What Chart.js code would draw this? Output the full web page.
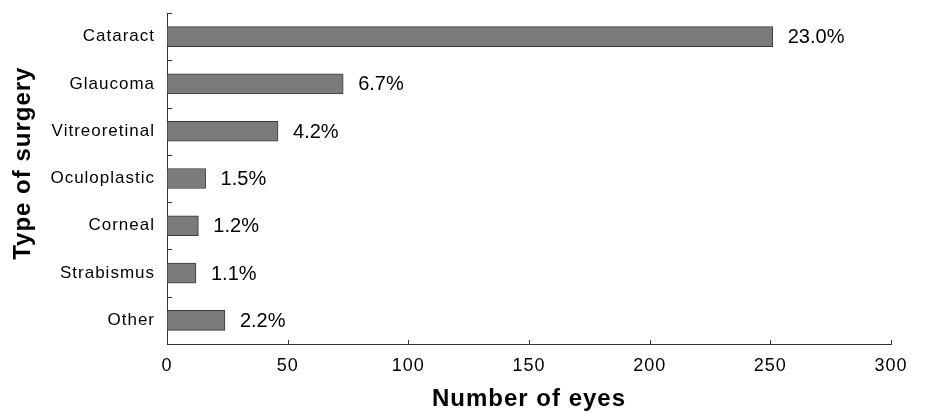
<!DOCTYPE html>
<html>
<head>
<meta charset="utf-8">
<script src="https://cdn.jsdelivr.net/npm/chart.js@4.4.1/dist/chart.umd.min.js"></script>
<style>
  html, body { margin: 0; padding: 0; background: #fff; }
  #wrap { width: 939px; height: 414px; position: relative; }
</style>
</head>
<body>
<div id="wrap"><canvas id="grafico"></canvas></div>
<script>
const categorias = ['Cataract', 'Glaucoma', 'Vitreoretinal', 'Oculoplastic', 'Corneal', 'Strabismus', 'Other'];
const olhos = [251, 73, 46, 16, 13, 12, 24];
const porcentagens = ['23.0%', '6.7%', '4.2%', '1.5%', '1.2%', '1.1%', '2.2%'];
const ticksX = [0, 50, 100, 150, 200, 250, 300];

const fonte = 'Liberation Sans, Arial, sans-serif';

// espacamento entre letras, como no original
const espacoPlugin = {
    id: 'espaco',
    beforeDraw(chart) {
        chart.ctx.letterSpacing = '1px';
    }
};

// rotulos de porcentagem ao lado das barras
const rotulosPlugin = {
    id: 'rotulos',
    afterDatasetsDraw(chart) {
        const ctx = chart.ctx;
        const meta = chart.getDatasetMeta(0);
        ctx.save();
        ctx.letterSpacing = '0px';
        ctx.font = '20px ' + fonte;
        ctx.fillStyle = '#000';
        ctx.textAlign = 'left';
        ctx.textBaseline = 'middle';
        meta.data.forEach((bar, i) => {
            ctx.fillText(porcentagens[i], bar.x + 15, bar.y + 1);
        });
        ctx.restore();
    }
};

// marcas pequenas dos eixos, para dentro
const marcasPlugin = {
    id: 'marcas',
    afterDraw(chart) {
        const ctx = chart.ctx;
        const sx = chart.scales.x;
        const area = chart.chartArea;
        ctx.save();
        ctx.strokeStyle = '#333';
        ctx.lineWidth = 1;
        ticksX.forEach(v => {
            const px = Math.round(sx.getPixelForValue(v)) + 0.5;
            ctx.beginPath();
            ctx.moveTo(px, area.bottom);
            ctx.lineTo(px, area.bottom - 4);
            ctx.stroke();
        });
        const passo = (area.bottom - area.top) / categorias.length;
        for (let i = 0; i < categorias.length; i++) {
            const py = Math.round(area.top + i * passo) + 0.5;
            ctx.beginPath();
            ctx.moveTo(area.left, py);
            ctx.lineTo(area.left + 5, py);
            ctx.stroke();
        }
        ctx.restore();
    }
};

const ctx = document.getElementById('grafico').getContext('2d');

new Chart(ctx, {
    type: 'bar',
    data: {
        labels: categorias,
        datasets: [{
            data: olhos,
            backgroundColor: '#7b7b7b',
            borderColor: '#3a3a3a',
            borderWidth: 1,
            barThickness: 20
        }]
    },
    options: {
        indexAxis: 'y',
        responsive: true,
        maintainAspectRatio: false,
        animation: false,
        layout: { padding: { left: 0, top: 13, right: 48, bottom: 0 } },
        plugins: {
            legend: { display: false },
            tooltip: { enabled: false }
        },
        scales: {
            x: {
                min: 0,
                max: 300,
                afterFit: (s) => { s.height = 70; },
                afterBuildTicks: (s) => { s.ticks = ticksX.map(v => ({ value: v })); },
                grid: { display: true, drawOnChartArea: false, drawTicks: false },
                border: { display: true, color: '#333', width: 1 },
                ticks: {
                    padding: 11,
                    color: '#000',
                    font: { family: fonte, size: 18 },
                    maxRotation: 0
                },
                title: {
                    display: true,
                    text: 'Number of eyes',
                    color: '#000',
                    font: { family: fonte, size: 24, weight: 'bold' },
                    padding: { top: 0, bottom: 0 }
                }
            },
            y: {
                afterFit: (s) => {
                    s.width = 167;
                    s.paddingTop = 0;
                    s.paddingBottom = 0;
                },
                grid: { display: true, drawOnChartArea: false, drawTicks: false },
                border: { display: true, color: '#333', width: 1 },
                ticks: {
                    padding: 12,
                    color: '#000',
                    font: { family: fonte, size: 17 }
                },
                title: {
                    display: true,
                    text: '    Type of surgery',
                    color: '#000',
                    font: { family: fonte, size: 24, weight: 'bold' },
                    padding: { top: 9, bottom: 0 }
                }
            }
        }
    },
    plugins: [espacoPlugin, rotulosPlugin, marcasPlugin]
});
</script>
</body>
</html>
